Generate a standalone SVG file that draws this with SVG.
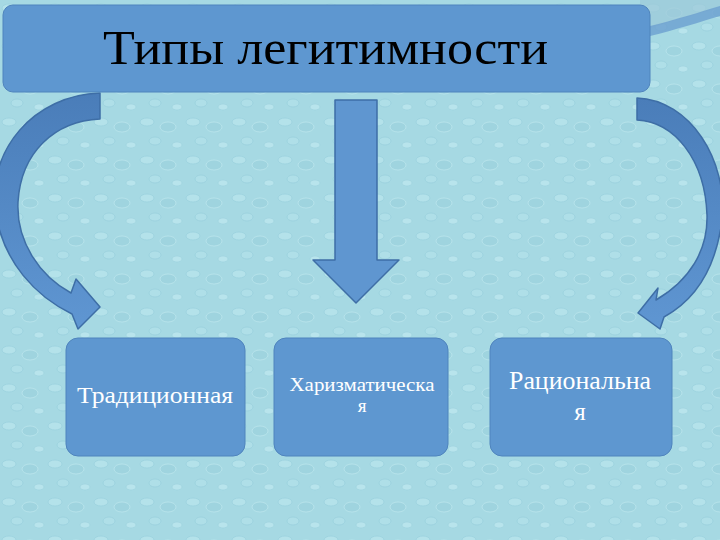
<svg xmlns="http://www.w3.org/2000/svg" width="720" height="540" viewBox="0 0 720 540">
<defs>
<pattern id="bubbles" width="46" height="38" patternUnits="userSpaceOnUse">
<rect width="46" height="38" fill="#a6d9e3"/>
<ellipse cx="9" cy="8" rx="7" ry="4" fill="#b4e2ea" stroke="#98d0dc" stroke-width="0.7"/>
<ellipse cx="30" cy="13" rx="8" ry="5" fill="#9fd4df" stroke="#bde7ee" stroke-width="0.7"/>
<ellipse cx="17" cy="27" rx="6" ry="4" fill="#afdfe8" stroke="#96cfdb" stroke-width="0.7"/>
<ellipse cx="39" cy="31" rx="5" ry="3" fill="#b8e4ec" stroke="#9cd2dd" stroke-width="0.6"/>
</pattern>
<linearGradient id="lg" x1="0" y1="0" x2="0" y2="1">
<stop offset="0" stop-color="#4a7db9"/>
<stop offset="1" stop-color="#5f96d2"/>
</linearGradient>
<style>
.box{fill:#5e97d0;stroke:#4f84bd;stroke-width:1}
.arrow{fill:#5f96d0;stroke:#3e6ea6;stroke-width:1.5;stroke-linejoin:round}
.lbl{font-family:"Liberation Serif","DejaVu Serif",serif;fill:#ffffff;text-anchor:middle}
</style>
</defs>
<rect width="720" height="540" fill="url(#bubbles)"/>
<path d="M640,0 L720,0 L720,8 C695,14 670,22 650,28 L640,28 Z" fill="#9cc9d8" opacity="0.7"/>
<path d="M650,26 C675,20 700,12 720,6 L720,16 C700,22 675,30 650,36 Z" fill="#6b9fcf" opacity="0.8"/>
<g id="connectors">
<path class="arrow" style="fill:url(#lg)" d="M100,93 C35,95 -15,150 -4,215 C4,262 35,296 72,314 L78,329 L100,307 L76,279 L71,293 C40,276 16,242 18,202 C21,152 55,121 100,119 Z"/>
<path class="arrow" style="fill:url(#lg)" d="M637,98 C690,100 728,160 722,220 C716,268 695,300 664,317 L660,329 L638,313 L658,288 L656,300 C690,280 708,250 707,215 C705,160 675,122 637,120 Z"/>
<path class="arrow" d="M335,100 L377,100 L377,260 L399,260 L356,303 L313,260 L335,260 Z"/>
</g>
<g id="header">
<rect class="box" x="3" y="5" width="647" height="87" rx="10"/>
<text x="103" y="64" font-family="Liberation Serif, serif" font-size="48" fill="#000000" textLength="445" lengthAdjust="spacingAndGlyphs">Типы легитимности</text>
</g>
<g id="traditional">
<rect class="box" x="66" y="338" width="179" height="118" rx="12"/>
<text class="lbl" x="155" y="403" font-size="23" textLength="156" lengthAdjust="spacingAndGlyphs">Традиционная</text>
</g>
<g id="charismatic">
<rect class="box" x="274" y="338" width="174" height="118" rx="12"/>
<text class="lbl" x="362" y="391" font-size="19" textLength="145" lengthAdjust="spacingAndGlyphs">Харизматическа</text>
<text class="lbl" x="362" y="412" font-size="19">я</text>
</g>
<g id="rational">
<rect class="box" x="490" y="338" width="182" height="118" rx="12"/>
<text class="lbl" x="580" y="389" font-size="25" textLength="142" lengthAdjust="spacingAndGlyphs">Рациональна</text>
<text class="lbl" x="580" y="420" font-size="25">я</text>
</g>
</svg>
